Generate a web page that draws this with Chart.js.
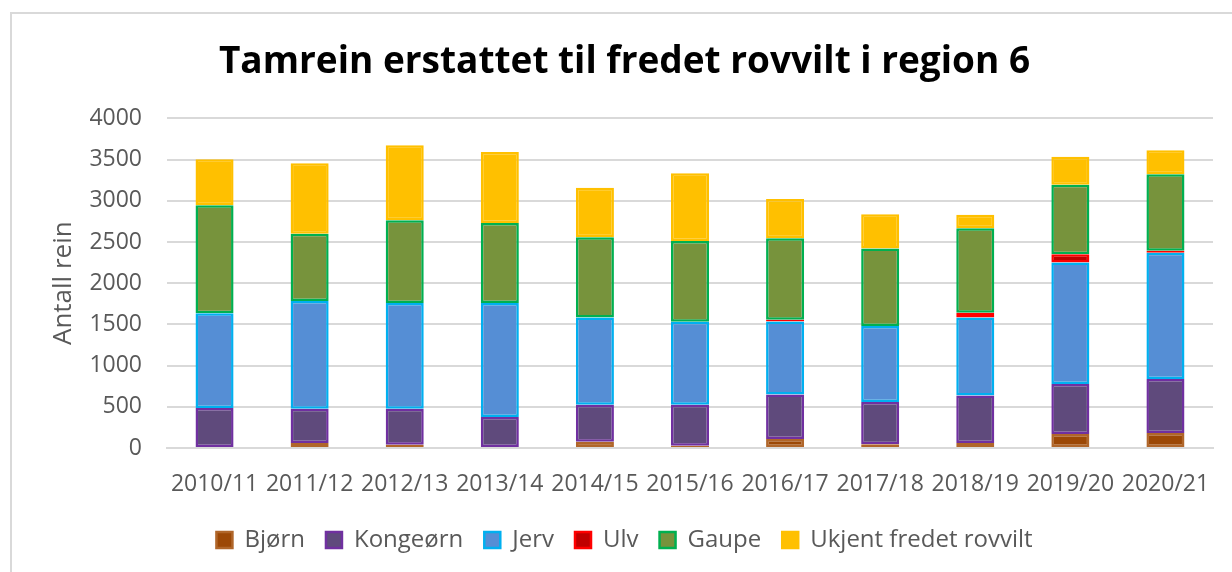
<!DOCTYPE html>
<html>
<head>
<meta charset="utf-8">
<script src="https://cdn.jsdelivr.net/npm/chart.js@4"></script>
<style>
  body { margin: 0; background: #fff; }
  #frame { position: absolute; left: 10px; top: 12px; width: 1400px; height: 800px; border: 2px solid #d9d9d9; }
  #wrap { position: absolute; left: 0; top: 0; width: 1232px; height: 572px; }
</style>
</head>
<body>
<div id="frame"></div>
<div id="wrap"><canvas id="chart" width="1232" height="572"></canvas></div>
<script>
// ================= DATA =================
let seasons = ["2010/11","2011/12","2012/13","2013/14","2014/15","2015/16","2016/17","2017/18","2018/19","2019/20","2020/21"];

let bjorn    = [0, 60, 40, 0, 76, 28, 109, 44, 60, 170, 182];
let kongeorn = [485, 416, 436, 376, 449, 497, 541, 513, 578, 606, 654];
let jerv     = [1151, 1309, 1285, 1385, 1058, 1006, 885, 925, 945, 1474, 1535];
let ulv      = [0, 0, 0, 0, 0, 0, 20, 0, 57, 102, 24];
let gaupe    = [1309, 816, 1003, 970, 975, 982, 990, 938, 1027, 843, 926];
let ukjent   = [558, 854, 909, 861, 601, 820, 477, 416, 165, 340, 291];

let yTicks = [0, 500, 1000, 1500, 2000, 2500, 3000, 3500, 4000];

// ================= STYLE =================
let font = "'Open Sans', sans-serif";
let textColor = "#595959";
let gridColor = "#d9d9d9";

function series(label, data, fill, border) {
  return {
    label,
    data,
    backgroundColor: fill,
    borderColor: border,
    borderWidth: 2.5,
    borderSkipped: false,
    barPercentage: 0.4,
    categoryPercentage: 1
  };
}

// ================= CHART =================
let chart = new Chart(document.getElementById("chart"), {
  type: "bar",
  data: {
    labels: seasons,
    datasets: [
      series("Bjørn", bjorn, "#9c4806", "#b0662a"),
      series("Kongeørn", kongeorn, "#5f4a7c", "#7030a0"),
      series("Jerv", jerv, "#558ed5", "#00b0f0"),
      series("Ulv", ulv, "#c00000", "#ff0000"),
      series("Gaupe", gaupe, "#77933c", "#00b050"),
      series("Ukjent fredet rovvilt", ukjent, "#ffc000", "#ffc000")
    ]
  },
  options: {
    responsive: false,
    animation: false,
    layout: { padding: { left: 36, right: 19, top: 0, bottom: 10 } },
    plugins: {
      title: {
        display: true,
        text: "Tamrein erstattet til fredet rovvilt i region 6",
        color: "#000",
        font: { family: font, size: 37, weight: "bold" },
        padding: { top: 40, bottom: 34 }
      },
      legend: {
        position: "bottom",
        labels: {
          color: textColor,
          font: { family: font, size: 24 },
          boxWidth: 16,
          boxHeight: 16,
          padding: 21
        }
      },
      tooltip: { enabled: false }
    },
    scales: {
      x: {
        stacked: true,
        grid: { display: false },
        border: { color: gridColor, width: 2 },
        ticks: { color: textColor, font: { family: font, size: 23 }, padding: 15, maxRotation: 0, autoSkip: false },
        afterFit: (scale) => { scale.height = 59; }
      },
      y: {
        stacked: true,
        min: 0,
        max: 4000,
        afterBuildTicks: (scale) => { scale.ticks = yTicks.map(v => ({ value: v })); },
        grid: { color: gridColor, lineWidth: 2, drawTicks: false },
        border: { display: false },
        ticks: {
          color: textColor,
          font: { family: font, size: 23 },
          padding: 25,
          callback: (v) => String(v)
        },
        title: {
          display: true,
          text: "Antall rein",
          color: textColor,
          font: { family: font, size: 26 },
          padding: { top: 12, bottom: 0 }
        },
        afterFit: (scale) => { scale.width = 131; }
      }
    }
  }
});
</script>
</body>
</html>
